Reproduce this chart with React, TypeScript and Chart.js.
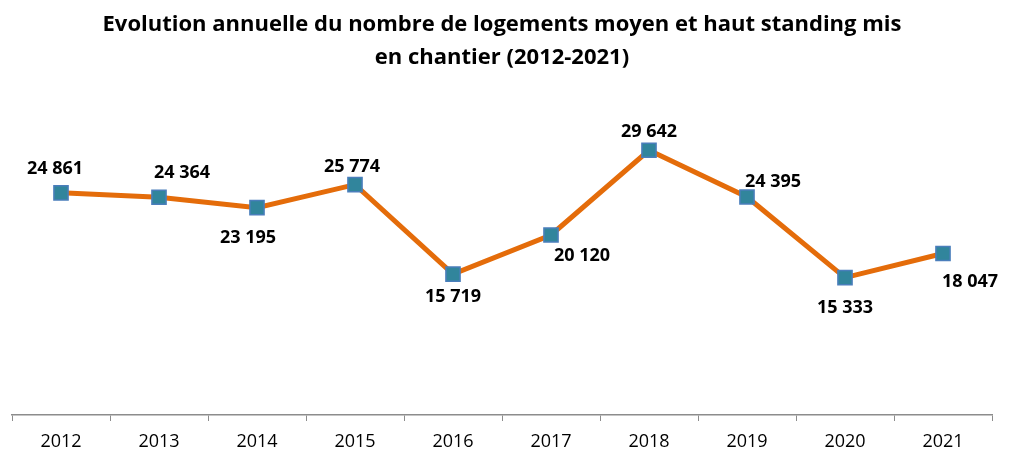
import React, { useEffect, useRef } from "react";
import { Chart, registerables } from "chart.js";

Chart.register(...registerables);

const years = ["2012", "2013", "2014", "2015", "2016", "2017", "2018", "2019", "2020", "2021"];
const logements = [24861, 24364, 23195, 25774, 15719, 20120, 29642, 24395, 15333, 18047];
const valueLabels = ["24 861", "24 364", "23 195", "25 774", "15 719", "20 120", "29 642", "24 395", "15 333", "18 047"];
// label offset from point (dx, dy) in px
const labelDx = [-6, 23, -9, -3, 0, 31, 0, 26, 0, 27];
const labelDy = [-24, -24, 30, -18, 23, 21, -18, -15, 30, 28];

const titleLines = [
  "Evolution annuelle du nombre de logements moyen et haut standing mis",
  "en chantier (2012-2021)",
];

const FONT = "'Open Sans', sans-serif";

const labelPlugin = {
  id: "valueLabels",
  afterDatasetsDraw(chart: any) {
    const ctx = chart.ctx;
    const meta = chart.getDatasetMeta(0);
    ctx.save();
    ctx.font = `bold 18px ${FONT}`;
    ctx.fillStyle = "#000000";
    ctx.textAlign = "center";
    ctx.textBaseline = "middle";
    meta.data.forEach((pt: any, i: number) => {
      ctx.fillText(valueLabels[i], pt.x + labelDx[i], pt.y + labelDy[i]);
    });
    ctx.restore();
  },
};

export default function App() {
  const ref = useRef<HTMLCanvasElement | null>(null);
  useEffect(() => {
    if (!ref.current) return;
    const chart = new Chart(ref.current, {
      type: "line",
      data: {
        labels: years,
        datasets: [
          {
            data: logements,
            borderColor: "#E46C0A",
            borderWidth: 5,
            pointStyle: "rect",
            pointRadius: 10,
            pointHoverRadius: 10,
            pointBackgroundColor: "#31859C",
            pointBorderColor: "#4A7EBB",
            pointBorderWidth: 1.5,
            tension: 0,
          },
        ],
      },
      options: {
        animation: false,
        responsive: false,
        maintainAspectRatio: false,
        layout: { padding: { left: 12, right: 20, top: 0, bottom: -13 } },
        plugins: {
          legend: { display: false },
          tooltip: { enabled: false },
          title: {
            display: true,
            text: titleLines,
            color: "#000000",
            font: { family: FONT, size: 22, weight: "bold", lineHeight: 1.5 },
            padding: { top: 8.5, bottom: 28.5 },
          },
        },
        scales: {
          y: { display: false, min: -100, max: 34950 },
          x: {
            offset: true,
            grid: {
              offset: true,
              drawOnChartArea: false,
              drawTicks: true,
              tickLength: 6,
              color: "#8C8C8C",
            },
            border: { display: true, color: "#8C8C8C", width: 1.5 },
            ticks: {
              color: "#000000",
              padding: 12,
              font: { family: FONT, size: 18, lineHeight: 1.0 },
            },
          },
        },
      },
      plugins: [labelPlugin],
    });
    return () => chart.destroy();
  }, []);
  return (
    <div style={{ position: "fixed", left: 0, top: 0, width: 1012, height: 450, background: "#fff" }}>
      <canvas ref={ref} width={1012} height={450} style={{ width: 1012, height: 450 }} />
    </div>
  );
}
